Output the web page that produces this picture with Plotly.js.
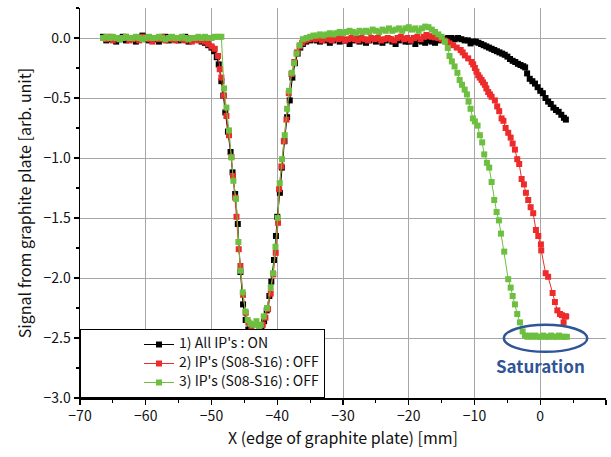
<!DOCTYPE html>
<html>
<head>
<meta charset="utf-8">
<script src="https://cdn.plot.ly/plotly-3.0.1.min.js"></script>
<style>html,body{margin:0;padding:0;background:#fff;}#chart{width:611px;height:457px;}</style>
</head>
<body>
<div id="chart"></div>
<script>
// ---- Series 1: All IP's ON (black)
const xBlack = [-66.5,-66,-65.5,-65,-64.5,-64,-63.5,-63,-62.5,-62,-61.5,-61,-60.5,-60,-59.5,-59,-58.5,-58,-57.5,-57,-56.5,-56,-55.5,-55,-54.5,-54,-53.5,-53,-52.5,-52,-51.5,-51,
  -50.5,-50.0,-49.6,-49.2,-48.9,-48.5,-48.2,-47.9,-47.5,-47.1,-46.8,-46.4,-46.0,-45.6,-45.2,-44.8,-44.4,-44.0,-43.6,-43.2,-42.8,-42.4,-42.0,-41.6,-41.2,-40.9,-40.5,-40.2,-40.0,-39.6,-39.3,-38.9,-38.5,-38.1,-37.7,-37.3,-36.9,-36.5,-36.1,-35.6,
  -35,-34.5,-34,-33.5,-33,-32.5,-32,-31.5,-31,-30.5,-30,-29.5,-29,-28.5,-28,-27.5,-27,-26.5,-26,-25.5,-25,-24.5,-24,-23.5,-23,-22.5,-22,-21.5,-21,-20.5,-20,-19.5,-19,-18.5,-18,-17.5,-17,-16.5,-16,-15.5,-15,-14.5,-14,-13.5,-13,-12.5,-12,-11.5,-11,
  -10.6,-10.2,-9.8,-9.4,-9.0,-8.6,-8.2,-7.8,-7.4,-7.0,-6.6,-6.2,-5.8,-5.4,-5.0,-4.6,-4.2,-3.8,-3.4,-3.0,-2.6,-2.3,-2.0,-1.6,-1.2,-0.8,-0.4,0.0,0.4,0.8,1.2,1.6,2.0,2.4,2.8,3.2,3.6,3.9];
const yBlack = [0.01,-0.02,-0.01,0.00,-0.03,-0.01,0.01,-0.02,0.00,-0.01,-0.03,0.00,0.02,-0.01,-0.02,0.00,-0.01,-0.03,-0.01,0.01,-0.02,-0.01,0.00,-0.02,-0.01,0.01,-0.03,-0.02,0.00,-0.01,-0.03,-0.04,
  -0.06,-0.08,-0.11,-0.16,-0.22,-0.36,-0.48,-0.62,-0.78,-0.95,-1.12,-1.30,-1.55,-1.95,-2.22,-2.35,-2.43,-2.46,-2.47,-2.48,-2.46,-2.42,-2.36,-2.27,-2.15,-2.03,-1.85,-1.65,-1.49,-1.29,-1.08,-0.86,-0.66,-0.52,-0.33,-0.21,-0.13,-0.08,-0.05,-0.03,
  -0.02,-0.01,-0.02,-0.03,-0.01,-0.02,-0.04,-0.02,-0.01,-0.03,-0.02,-0.02,-0.05,-0.02,-0.01,-0.03,-0.02,-0.04,-0.02,-0.01,-0.03,-0.02,-0.04,-0.02,-0.01,-0.03,-0.05,-0.02,-0.01,-0.03,-0.03,-0.02,-0.05,-0.02,-0.03,-0.04,-0.02,-0.03,-0.04,-0.02,-0.01,-0.01,0.00,0.00,-0.01,0.00,-0.01,-0.02,-0.02,
  -0.045,-0.03,-0.03,-0.04,-0.05,-0.06,-0.07,-0.08,-0.09,-0.10,-0.11,-0.12,-0.13,-0.14,-0.155,-0.175,-0.19,-0.20,-0.215,-0.225,-0.235,-0.245,-0.295,-0.34,-0.36,-0.38,-0.41,-0.44,-0.46,-0.50,-0.53,-0.55,-0.58,-0.60,-0.615,-0.64,-0.665,-0.68];

// ---- Series 2: IP's (S08-S16) OFF (red)
const xRed = [-66.5,-66,-65.5,-65,-64.5,-64,-63.5,-63,-62.5,-62,-61.5,-61,-60.5,-60,-59.5,-59,-58.5,-58,-57.5,-57,-56.5,-56,-55.5,-55,-54.5,-54,-53.5,-53,-52.5,-52,-51.5,-51,
  -50.5,-50.0,-49.5,-49.0,-48.75,-48.5,-48.1,-47.73,-47.34,-46.97,-46.73,-46.4,-46.2,-45.86,-45.6,-45.2,-44.8,-44.4,-43.93,-43.5,-43.17,-42.67,-42.2,-41.8,-41.4,-40.99,-40.6,-40.23,-39.88,-39.72,-39.36,-39.0,-38.6,-38.25,-37.84,-37.4,-37.0,-36.6,-36.2,-35.7,
  -35.2,-34.7,-34.2,-33.7,-33.2,-32.7,-32.2,-31.7,-31.2,-30.7,-30.2,-29.7,-29.2,-28.7,-28.2,-27.7,-27.2,-26.7,-26.2,-25.7,-25.2,-24.7,-24.2,-23.7,-23.2,-22.7,-22.2,-21.7,-21.2,-20.7,-20.2,-19.7,-19.2,-18.7,-18.2,-17.7,-17.3,-16.9,-16.5,-16.0,-15.5,-15.0,-14.6,-14.25,-13.8,-13.24,-12.7,-12.1,-11.8,-11.46,-10.96,-10.44,-10.2,
  -9.94,-9.7,-9.44,-9.2,-8.92,-8.7,-8.42,-8.2,-7.92,-7.65,-7.4,-6.9,-6.55,-6.24,-5.88,-5.6,-5.27,-4.87,-4.5,-4.2,-3.85,-3.5,-3.2,-2.83,-2.48,-2.18,-1.83,-1.46,-1.07,-0.66,-0.3,0.1,0.15,0.82,1.2,1.88,2.23,2.6,3.0,3.3,3.55,3.75,3.95];
const yRed = [0.00,-0.01,0.01,-0.02,0.00,-0.01,0.00,0.01,-0.02,-0.01,0.00,-0.02,0.01,0.00,-0.01,-0.03,0.00,-0.01,0.01,-0.02,0.00,-0.01,-0.02,0.00,-0.01,-0.02,0.00,-0.03,-0.01,-0.02,-0.02,-0.03,
  -0.05,-0.07,-0.09,-0.15,-0.26,-0.33,-0.48,-0.65,-0.81,-0.99,-1.15,-1.33,-1.49,-1.76,-1.90,-2.14,-2.29,-2.37,-2.43,-2.45,-2.46,-2.44,-2.39,-2.33,-2.26,-2.13,-1.97,-1.79,-1.54,-1.26,-1.07,-0.86,-0.68,-0.46,-0.30,-0.20,-0.12,-0.07,-0.04,-0.02,
  -0.01,0.00,-0.01,0.00,-0.02,0.00,-0.01,-0.02,0.00,-0.01,0.00,-0.02,-0.01,0.00,-0.01,-0.02,0.00,-0.01,-0.02,0.00,-0.01,0.00,-0.02,-0.01,0.00,-0.01,-0.02,0.00,0.01,-0.01,0.00,-0.02,0.00,0.01,-0.01,0.01,0.025,0.015,0.01,0.005,0.00,-0.01,-0.02,-0.03,-0.045,-0.06,-0.08,-0.10,-0.12,-0.145,-0.17,-0.20,-0.22,
  -0.25,-0.28,-0.31,-0.33,-0.35,-0.37,-0.39,-0.42,-0.45,-0.47,-0.49,-0.52,-0.57,-0.61,-0.67,-0.69,-0.75,-0.79,-0.83,-0.88,-0.93,-1.01,-1.05,-1.175,-1.22,-1.29,-1.35,-1.41,-1.46,-1.60,-1.65,-1.72,-1.77,-1.96,-1.99,-2.125,-2.20,-2.27,-2.30,-2.31,-2.37,-2.32,-2.32];

// ---- Series 3: IP's (S08-S16) OFF (green)
const xGreen = [-66.5,-66,-65.5,-65,-64.5,-64,-63.5,-63,-62.5,-62,-61.5,-61,-60.5,-60,-59.5,-59,-58.5,-58,-57.5,-57,-56.5,-56,-55.5,-55,-54.5,-54,-53.5,-53,-52.5,-52,-51.5,-51,-50.5,-50,-49.5,-49,-48.5,
  -48.10,-47.73,-47.34,-46.97,-46.67,-46.27,-45.91,-45.60,-45.25,-44.84,-44.5,-44.1,-43.68,-43.17,-42.8,-42.51,-42.05,-41.55,-40.99,-40.64,-40.27,-39.92,-39.62,-39.27,-38.86,-38.51,-38.20,-37.79,-37.44,-37.08,-36.6,-36.1,-35.55,
  -35.0,-34.5,-34.0,-33.5,-33.0,-32.5,-32.0,-31.5,-31.0,-30.5,-30.0,-29.5,-29.0,-28.5,-28.0,-27.5,-27.0,-26.5,-26.0,-25.5,-25.0,-24.5,-24.0,-23.5,-23.0,-22.5,-22.0,-21.5,-21.0,-20.5,-20.0,-19.5,-19.0,-18.5,-18.0,-17.5,-17.0,-16.5,-16.0,-15.5,-15.0,-14.5,
  -14.06,-13.8,-13.44,-13.03,-12.6,-12.26,-11.9,-11.5,-11.15,-10.9,-10.6,-10.25,-9.94,-9.53,-9.18,-8.83,-8.52,-8.11,-7.76,-7.40,-7.0,-6.64,-6.29,-5.98,-5.48,-4.87,-4.5,-4.2,-3.85,-3.5,-3.09,-2.68,-2.33,
  -1.95,-1.55,-1.15,-0.75,-0.35,0.05,0.45,0.85,1.25,1.65,2.05,2.45,2.85,3.25,3.65,4.05];
const yGreen = [0.00,0.01,0.00,0.01,0.00,-0.01,0.00,0.01,0.00,0.00,0.01,0.00,-0.01,0.00,0.01,0.00,0.00,0.01,0.00,-0.01,0.00,0.01,0.00,0.00,0.01,0.00,-0.01,0.00,0.00,0.01,0.00,0.01,0.00,0.00,0.01,0.01,0.01,
  -0.42,-0.58,-0.77,-0.995,-1.19,-1.34,-1.70,-1.94,-2.12,-2.28,-2.35,-2.38,-2.39,-2.36,-2.40,-2.39,-2.32,-2.25,-2.08,-1.96,-1.74,-1.50,-1.21,-1.01,-0.81,-0.59,-0.44,-0.29,-0.21,-0.13,-0.06,-0.01,0.00,
  0.01,0.02,0.02,0.03,0.02,0.03,0.04,0.03,0.04,0.05,0.04,0.05,0.06,0.05,0.04,0.06,0.05,0.06,0.05,0.07,0.06,0.05,0.07,0.06,0.08,0.06,0.07,0.08,0.06,0.08,0.09,0.07,0.08,0.06,0.08,0.095,0.09,0.07,0.05,0.03,0.01,-0.03,
  -0.083,-0.15,-0.195,-0.237,-0.29,-0.35,-0.39,-0.43,-0.47,-0.53,-0.59,-0.67,-0.695,-0.73,-0.81,-0.87,-0.97,-1.04,-1.08,-1.20,-1.35,-1.45,-1.52,-1.63,-1.78,-2.01,-2.08,-2.15,-2.22,-2.30,-2.37,-2.445,-2.48,
  -2.49,-2.48,-2.49,-2.48,-2.49,-2.49,-2.48,-2.49,-2.49,-2.48,-2.49,-2.49,-2.48,-2.49,-2.49,-2.49];

const seriesNames = ["1) All IP's : ON", "2) IP's (S08-S16) : OFF", "3) IP's (S08-S16) : OFF"];
const xTickVals = [-70,-60,-50,-40,-30,-20,-10,0,10];
const yTickVals = [0.0,-0.5,-1.0,-1.5,-2.0,-2.5,-3.0];
const annoText = "Saturation";

const FONT = "'Noto Sans CJK JP', 'Noto Sans', sans-serif";
const colors = ['#000000', '#ee2b2b', '#6cbf3f'];
const xs = [xBlack, xRed, xGreen];
const ys = [yBlack, yRed, yGreen];

const traces = xs.map((x, i) => ({
  x: x, y: ys[i], name: '<span style="font-size:14px">' + seriesNames[i] + '</span>',
  type: 'scatter', mode: 'lines+markers',
  line: {color: colors[i], width: 1},
  marker: {symbol: 'square', size: 6, color: colors[i]}
}));

const layout = {
  width: 611, height: 457,
  margin: {l: 80, r: 5, t: 8, b: 59},
  paper_bgcolor: '#ffffff', plot_bgcolor: '#ffffff',
  font: {family: FONT, size: 14, color: '#111'},
  showlegend: true,
  legend: {
    x: 0, y: 0, xanchor: 'left', yanchor: 'bottom',
    bgcolor: '#ffffff', bordercolor: '#000000', borderwidth: 1,
    font: {family: FONT, size: 10, color: '#111'},
    indentation: 58, tracegroupgap: 0
  },
  xaxis: {
    range: [-70, 10], tickvals: xTickVals, ticktext: xTickVals.map(v => v < 0 ? '\u2212' + Math.abs(v) : String(v)),
    showgrid: true, gridcolor: '#a6a6a6', gridwidth: 1,
    showline: true, linecolor: '#000', linewidth: 1.5,
    ticks: 'outside', ticklen: 5, tickcolor: '#000', tickwidth: 1.2,
    minor: {dtick: 5, ticks: 'outside', ticklen: 3, tickcolor: '#000', showgrid: false},
    zeroline: false,
    tickfont: {family: FONT, size: 14, color: '#111'},
    title: {text: 'X (edge of graphite plate) [mm]', font: {family: FONT, size: 16, color: '#111'}, standoff: 8}
  },
  yaxis: {
    range: [-3, 0.25], tickvals: yTickVals, ticktext: yTickVals.map(v => (v < 0 ? '\u2212' : '') + Math.abs(v).toFixed(1)),
    showgrid: true, gridcolor: '#a6a6a6', gridwidth: 1,
    showline: true, linecolor: '#000', linewidth: 1.5,
    ticks: 'outside', ticklen: 5, tickcolor: '#000', tickwidth: 1.2,
    minor: {dtick: 0.25, ticks: 'outside', ticklen: 3, tickcolor: '#000', showgrid: false},
    zeroline: false,
    tickfont: {family: FONT, size: 14, color: '#111'},
    title: {text: 'Signal from graphite plate [arb. unit]', font: {family: FONT, size: 16, color: '#111'}, standoff: 8}
  },
  shapes: [{
    type: 'circle', xref: 'x', yref: 'y', x0: -5.53, x1: 7.15, y0: -2.615, y1: -2.39,
    line: {color: '#2f5597', width: 2.5}, fillcolor: 'rgba(0,0,0,0)', layer: 'above'
  }],
  annotations: [{
    x: 0.1, y: -2.73, xref: 'x', yref: 'y', text: '<b>' + annoText + '</b>', showarrow: false,
    font: {family: FONT, size: 17, color: '#2f5597'}
  }]
};

Plotly.newPlot('chart', traces, layout, {displayModeBar: false, staticPlot: true});
</script>
</body>
</html>
